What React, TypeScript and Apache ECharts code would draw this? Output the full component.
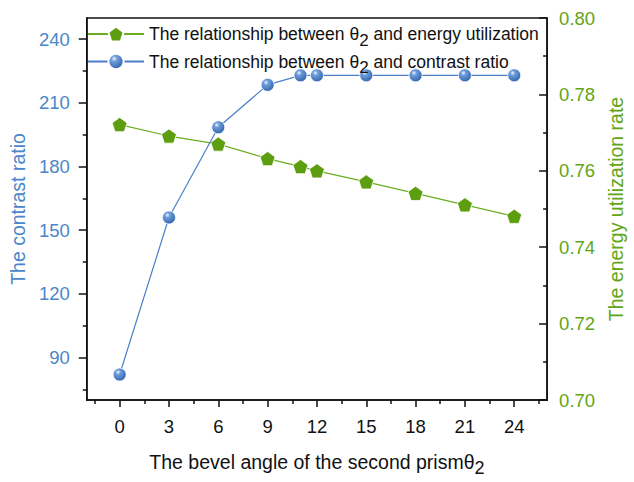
import React, { useEffect, useRef } from "react";
import * as echarts from "echarts";

const xValues = [0, 3, 6, 9, 11, 12, 15, 18, 21, 24];
const contrastRatio = [82, 156, 198.5, 218.5, 223, 223, 223, 223, 223, 223];
const energyUtilization = [0.7721, 0.7691, 0.767, 0.7632, 0.7611, 0.76, 0.7571, 0.7541, 0.7511, 0.7481];
const xTickLabels = [0, 3, 6, 9, 12, 15, 18, 21, 24];
const xMinorTicks = [-1.5, 1.5, 4.5, 7.5, 10.5, 13.5, 16.5, 19.5, 22.5, 25.5];
const leftTickLabels = [90, 120, 150, 180, 210, 240];
const leftMinorTicks = [75, 105, 135, 165, 195, 225];

const BLUE = "#4a86c8";
const GREEN = "#62a516";
const FONT = "Liberation Sans, Arial, sans-serif";
const pentagon = "path://M50,0 L97.6,34.5 L79.4,90.5 L20.6,90.5 L2.4,34.5 Z";

export default function App() {
  const ref = useRef<HTMLDivElement>(null);
  useEffect(() => {
    if (!ref.current) return;
    const chart = echarts.init(ref.current, undefined, { renderer: "svg" });
    const sphere = {
      type: "radial",
      x: 0.38,
      y: 0.32,
      r: 0.75,
      colorStops: [
        { offset: 0, color: "#f2f6fc" },
        { offset: 0.25, color: "#6f9edb" },
        { offset: 1, color: "#2b5ea8" },
      ],
    };
    const energyName = "energy";
    const contrastName = "contrast";
    chart.setOption({
      animation: false,
      textStyle: { fontFamily: FONT },
      grid: {
        left: 85,
        right: 78,
        top: 18,
        bottom: 70,
        show: true,
        borderColor: "#111",
        borderWidth: 1.5,
        containLabel: false,
      },
      legend: {
        orient: "vertical",
        left: 82,
        top: 20,
        itemWidth: 56,
        itemHeight: 19,
        itemGap: 4,
        data: [energyName, contrastName],
        formatter: (name: string) =>
          name === energyName
            ? "{a|The relationship between θ}{s|2}{a| and energy utilization}"
            : "{a|The relationship between θ}{s|2}{a| and contrast ratio}",
        textStyle: {
          fontFamily: FONT,
          rich: {
            a: { fontSize: 17.5, color: "#111", fontFamily: FONT },
            s: { fontSize: 17, color: "#111", fontFamily: FONT, padding: [12, 0, 0, 0] },
          },
        },
      },
      xAxis: [
        {
          type: "value",
          min: -2,
          max: 26,
          position: "bottom",
          name: "{a|The bevel angle of the second prismθ}{s|2}",
          nameLocation: "middle",
          nameGap: 47,
          nameTextStyle: {
            rich: {
              a: { fontSize: 19.5, color: "#111", fontFamily: FONT },
              s: { fontSize: 18, color: "#111", fontFamily: FONT, padding: [12, 0, 0, 0] },
            },
          },
          axisLine: { show: true, onZero: false, lineStyle: { color: "#111", width: 1.5 } },
          axisTick: { show: true, inside: false, length: 7, customValues: xTickLabels, lineStyle: { color: "#111", width: 1.5 } },
          axisLabel: { show: true, customValues: xTickLabels, margin: 17, fontSize: 18.5, color: "#111", fontFamily: FONT },
          splitLine: { show: false },
        },
        {
          type: "value",
          min: -2,
          max: 26,
          position: "bottom",
          axisLine: { show: false, onZero: false },
          axisTick: { show: true, inside: false, length: 4, customValues: xMinorTicks, lineStyle: { color: "#111", width: 1.5 } },
          axisLabel: { show: false },
          splitLine: { show: false },
        },
      ],
      yAxis: [
        {
          type: "value",
          min: 70,
          max: 250,
          position: "left",
          name: "The contrast ratio",
          nameLocation: "middle",
          nameGap: 56,
          nameRotate: 90,
          nameTextStyle: { fontSize: 19.5, color: BLUE, fontFamily: FONT },
          axisLine: { show: true, onZero: false, lineStyle: { color: "#111", width: 1.5 } },
          axisTick: { show: true, inside: false, length: 8, customValues: leftTickLabels, lineStyle: { color: "#111", width: 1.5 } },
          axisLabel: { show: true, customValues: leftTickLabels, margin: 17, fontSize: 18.5, color: BLUE, fontFamily: FONT },
          splitLine: { show: false },
        },
        {
          type: "value",
          min: 70,
          max: 250,
          position: "left",
          axisLine: { show: false, onZero: false },
          axisTick: { show: true, inside: false, length: 4, customValues: leftMinorTicks, lineStyle: { color: "#111", width: 1.5 } },
          axisLabel: { show: false },
          splitLine: { show: false },
        },
        {
          type: "value",
          min: 0.7,
          max: 0.8,
          interval: 0.02,
          position: "right",
          name: "The energy utilization rate",
          nameLocation: "middle",
          nameGap: 58,
          nameRotate: 90,
          nameTextStyle: { fontSize: 19.5, color: GREEN, fontFamily: FONT },
          axisLine: { show: true, onZero: false, lineStyle: { color: "#111", width: 1.5 } },
          axisTick: { show: true, inside: true, length: 8, lineStyle: { color: "#111", width: 1.5 } },
          minorTick: { show: true, splitNumber: 2, length: 4, lineStyle: { color: "#111", width: 1.5 } },
          axisLabel: {
            show: true,
            margin: 12,
            fontSize: 18.5,
            color: GREEN,
            fontFamily: FONT,
            formatter: (v: number) => v.toFixed(2),
          },
          splitLine: { show: false },
        },
      ],
      series: [
        {
          name: energyName,
          type: "line",
          xAxisIndex: 0,
          yAxisIndex: 2,
          data: xValues.map((x, i) => [x, energyUtilization[i]]),
          symbol: pentagon,
          symbolSize: 15,
          symbolKeepAspect: true,
          lineStyle: { color: "#6aae20", width: 1.2 },
          itemStyle: { color: "#5c9e0f", borderColor: "#ffffff", borderWidth: 0.8 },
          z: 2,
        },
        {
          name: contrastName,
          type: "line",
          xAxisIndex: 0,
          yAxisIndex: 0,
          data: xValues.map((x, i) => [x, contrastRatio[i]]),
          symbol: "circle",
          symbolSize: 13,
          lineStyle: { color: "#4a7fc8", width: 1.2 },
          itemStyle: { color: sphere, borderColor: "#ffffff", borderWidth: 0.8 },
          z: 3,
        },
      ],
    });
    return () => chart.dispose();
  }, []);
  return <div ref={ref} style={{ width: 634, height: 482, position: "absolute", left: 0, top: 0 }} />;
}
